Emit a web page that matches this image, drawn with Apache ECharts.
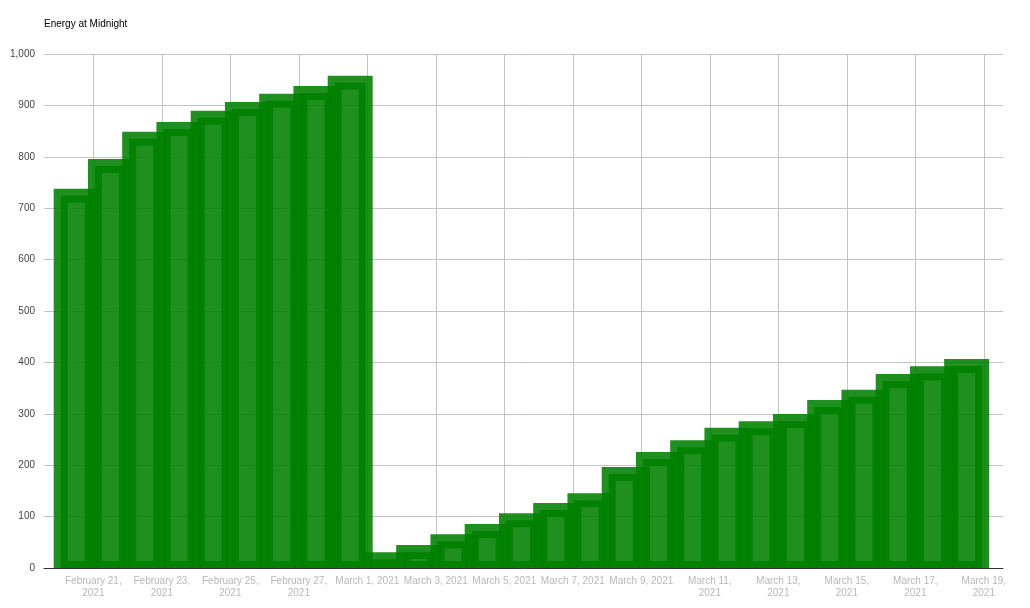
<!DOCTYPE html>
<html>
<head>
<meta charset="utf-8">
<script src="https://cdn.jsdelivr.net/npm/echarts@6/dist/echarts.min.js"></script>
<style>
  html, body { margin: 0; padding: 0; background: #fff; }
  #chart { width: 1030px; height: 608px; }
</style>
</head>
<body>
<div id="chart"></div>
<script>
// one bar per day, energy reading taken at midnight
const dates = [
  '2021-02-20', '2021-02-21', '2021-02-22', '2021-02-23', '2021-02-24', '2021-02-25',
  '2021-02-26', '2021-02-27', '2021-02-28', '2021-03-01', '2021-03-02', '2021-03-03',
  '2021-03-04', '2021-03-05', '2021-03-06', '2021-03-07', '2021-03-08', '2021-03-09',
  '2021-03-10', '2021-03-11', '2021-03-12', '2021-03-13', '2021-03-14', '2021-03-15',
  '2021-03-16', '2021-03-17', '2021-03-18'
]
const energy = [
  724, 782, 835, 854, 876, 893, 909, 924, 944,
  17, 31, 52, 72, 93, 113, 132, 183, 212,
  235, 259, 272, 286, 313, 333, 364, 379, 393
]

const tickDates = [
  '2021-02-21', '2021-02-23', '2021-02-25', '2021-02-27', '2021-03-01', '2021-03-03',
  '2021-03-05', '2021-03-07', '2021-03-09', '2021-03-11', '2021-03-13', '2021-03-15',
  '2021-03-17', '2021-03-19'
]
const tickLabels = [
  'February 21,\n2021', 'February 23,\n2021', 'February 25,\n2021', 'February 27,\n2021',
  'March 1, 2021', 'March 3, 2021', 'March 5, 2021', 'March 7, 2021', 'March 9, 2021',
  'March 11,\n2021', 'March 13,\n2021', 'March 15,\n2021', 'March 17,\n2021', 'March 19,\n2021'
]

const DAY = 86400000
const base = Date.parse(dates[0])
const dayOf = d => (Date.parse(d) - base) / DAY

// bars sit in the middle of their day
const barData = dates.map((d, i) => [dayOf(d) + 0.5, energy[i]])
const tickPos = tickDates.map(dayOf)

const font = 'Arial, "Liberation Sans", sans-serif'
const green = 'rgba(0, 128, 0, 0.88)'
const barW = 31

const chart = echarts.init(document.getElementById('chart'))

// drawn as custom rects so the thick stroke stays centred on the bar edge
// (the bar series shrinks the rect by the border width)
const renderBar = (params, api) => {
  const top = api.coord([api.value(0), api.value(1)])
  const bottom = api.coord([api.value(0), 0])
  return {
    type: 'rect',
    shape: {
      x: top[0] - barW / 2,
      y: top[1],
      width: barW,
      height: bottom[1] - top[1]
    },
    style: {
      fill: green,
      stroke: green,
      lineWidth: 14
    }
  }
}

const option = {
  animation: false,
  title: {
    text: 'Energy at Midnight',
    left: 44,
    top: 19,
    padding: 0,
    textStyle: { fontSize: 10, fontWeight: 'normal', color: '#000', fontFamily: font }
  },
  grid: {
    left: 44,
    right: 27,
    top: 54,
    bottom: 40,
    containLabel: false
  },
  xAxis: {
    type: 'value',
    min: -0.44,
    max: 27.56,
    axisLine: { show: true, lineStyle: { color: '#333', width: 1 } },
    axisTick: { show: false, customValues: tickPos },
    splitLine: { show: true, lineStyle: { color: '#c4c4c4', width: 1 } },
    axisLabel: {
      customValues: tickPos,
      margin: 7,
      color: '#b8b8b8',
      fontSize: 10,
      lineHeight: 12,
      fontFamily: font,
      formatter: v => {
        const i = tickPos.indexOf(v)
        return i >= 0 ? tickLabels[i] : ''
      }
    }
  },
  yAxis: {
    type: 'value',
    min: 0,
    max: 1000,
    interval: 100,
    axisLine: { show: false },
    axisTick: { show: false },
    splitLine: { lineStyle: { color: '#c4c4c4', width: 1 } },
    axisLabel: {
      margin: 9,
      color: '#444',
      fontSize: 10,
      fontFamily: font,
      formatter: v => v.toLocaleString('en-US')
    }
  },
  series: [
    {
      type: 'custom',
      renderItem: renderBar,
      clip: true,
      encode: { x: 0, y: 1 },
      data: barData
    }
  ]
}

chart.setOption(option)
</script>
</body>
</html>
